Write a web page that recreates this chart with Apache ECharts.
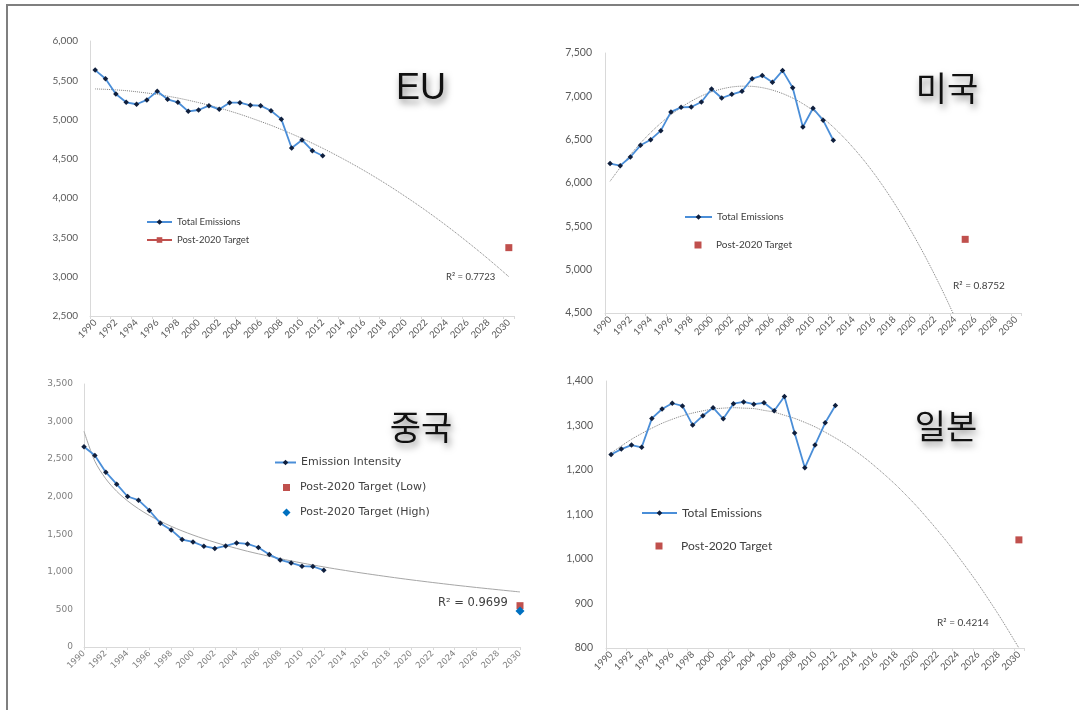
<!DOCTYPE html>
<html>
<head>
<meta charset="utf-8">
<script src="https://cdn.jsdelivr.net/npm/echarts@6/dist/echarts.min.js"></script>
<style>
  html, body { margin: 0; padding: 0; background: #ffffff; }
  #chart { width: 1079px; height: 710px; }
</style>
</head>
<body>
<div id="chart"></div>
<script>
// Year categories shared by all four panels
const years = ['1990','1991','1992','1993','1994','1995','1996','1997','1998','1999',
  '2000','2001','2002','2003','2004','2005','2006','2007','2008','2009',
  '2010','2011','2012','2013','2014','2015','2016','2017','2018','2019',
  '2020','2021','2022','2023','2024','2025','2026','2027','2028','2029','2030'];

// Observed series, 1990-2012
const euEmissions = [5630,5520,5325,5220,5195,5250,5360,5258,5220,5105,5122,5177,5130,5215,5215,5182,5177,5113,5005,4638,4740,4604,4540];
const usEmissions = [6224,6200,6300,6435,6500,6604,6820,6873,6877,6935,7085,6981,7023,7058,7204,7239,7162,7297,7100,6646,6862,6723,6493];
const chinaIntensity = [2664,2549,2327,2167,2003,1954,1817,1648,1558,1430,1399,1341,1311,1345,1385,1372,1324,1230,1159,1119,1075,1071,1022];
const japanEmissions = [1235,1247,1256,1251,1316,1337,1350,1344,1301,1322,1340,1315,1349,1353,1348,1351,1333,1365,1283,1205,1256,1306,1345];

// Post-2020 targets
const euTarget = [['2030', 3370]];
const usTarget = [['2025', 5350]];
const chinaTargetLow = [['2030', 550]];
const chinaTargetHigh = [['2030', 480]];
const japanTarget = [['2030', 1043]];

// Trend lines, one value per year from 1990
const euTrend = [5390,5385,5378,5368,5354,5338,5320,5298,5274,5246,5216,5183,5148,5109,5068,5023,4976,4927,4874,4818,
  4760,4699,4635,4568,4498,4426,4351,4273,4192,4108,4021,3932,3840,3745,3647,3546,3442,3336,3227,3115,3000];
const usTrend = [6020,6179,6326,6460,6582,6691,6788,6872,6944,7004,7051,7085,7108,7117,7115,7100,7072,7032,6980,6915,
  6837,6747,6645,6530,6403,6264,6112,5947,5770,5581,5379,5165,4938,4699,4447];
const chinaTrend = [2870,2471,2238,2072,1944,1839,1750,1674,1606,1545,1490,1440,1394,1351,1312,1274,1240,1207,1176,1146,
  1118,1091,1066,1041,1018,995,974,953,933,913,894,876,858,841,824,808,792,777,762,747,733];
const japanTrend = [1238,1254,1269,1282,1294,1305,1314,1322,1328,1333,1337,1339,1340,1339,1338,1334,1330,1323,1316,1307,
  1297,1285,1272,1258,1242,1225,1206,1186,1165,1142,1118,1092,1065,1037,1007,976,944,910,875,838,800];

// Y-axis ranges [min, max, interval]
const euRange = [2500, 6000, 500];
const usRange = [4500, 7500, 500];
const chinaRange = [0, 3500, 500];
const japanRange = [800, 1400, 100];

const LATIN = 'Lato, "Liberation Sans", sans-serif';
const GULIM = '"DejaVu Sans", "Noto Sans", sans-serif';
const KR = '"Noto Sans CJK KR", sans-serif';
const BLUE = '#4a8ed8';
const MARK = '#0f1f3d';
const RED = '#c0504d';
const AXIS = '#d9d9d9';

const grids = [
  { left: 90,  top: 41,  width: 424, height: 275 },
  { left: 605, top: 53,  width: 416, height: 260 },
  { left: 84,  top: 384, width: 436, height: 263 },
  { left: 606, top: 381, width: 418, height: 267 }
].map(g => Object.assign({ containLabel: false, outerBoundsMode: 'none' }, g));

function xAxisFor(idx, gap, font, color, size) {
  return {
    type: 'category', gridIndex: idx, data: years, boundaryGap: gap,
    axisLine: { show: true, lineStyle: { color: AXIS, width: 1 } },
    axisTick: { show: true, interval: 1, length: 3, lineStyle: { color: AXIS } },
    axisLabel: { interval: 1, rotate: 45, margin: 5, fontSize: size, fontFamily: font, color: color },
    splitLine: { show: false }
  };
}
function yAxisFor(idx, range, font, color, size, margin) {
  return {
    type: 'value', gridIndex: idx, min: range[0], max: range[1], interval: range[2],
    axisLine: { show: true, lineStyle: { color: AXIS, width: 1 } },
    axisTick: { show: false },
    splitLine: { show: false },
    axisLabel: { fontSize: size, fontFamily: font, color: color, margin: margin,
      formatter: v => v.toLocaleString('en-US') }
  };
}

function dataLine(name, idx, values) {
  return {
    name: name, type: 'line', xAxisIndex: idx, yAxisIndex: idx, data: values,
    symbol: 'diamond', symbolSize: 5.5, showSymbol: true, z: 3,
    itemStyle: { color: MARK },
    lineStyle: { color: BLUE, width: 1.8 }
  };
}
function trendLine(idx, values, type, color) {
  return {
    type: 'line', xAxisIndex: idx, yAxisIndex: idx, data: values, smooth: 0.3,
    symbol: 'none', clip: true, z: 2, silent: true,
    lineStyle: { color: color, width: 1, type: type }
  };
}
function targetPoint(name, idx, data, symbol, size, color) {
  return {
    name: name, type: 'scatter', xAxisIndex: idx, yAxisIndex: idx, data: data,
    symbol: symbol, symbolSize: size, z: 4, itemStyle: { color: color, opacity: 1 }
  };
}

// One legend per entry so each row sits exactly where it belongs
function legendItem(name, left, top, w, h, font, size, icon, textPad) {
  const item = icon ? { name: name, icon: icon } : { name: name };
  return {
    data: [item], left: left, top: top, itemWidth: w, itemHeight: h, padding: 0,
    selectedMode: false,
    formatter: n => n.split('|')[1],
    textStyle: { fontFamily: font, fontSize: size, color: '#404040',
      padding: [0, 0, 0, textPad || 0] }
  };
}

function headline(text, x, y, font, size) {
  return {
    type: 'text', x: x, y: y, silent: true, z: 10,
    style: {
      text: text, fill: '#111111', font: size + 'px ' + font,
      textAlign: 'center', textVerticalAlign: 'middle', align: 'center', verticalAlign: 'middle',
      textShadowColor: 'rgba(0,0,0,0.5)', textShadowBlur: 7, textShadowOffsetX: 2, textShadowOffsetY: 4
    }
  };
}
function note(text, x, y, font, size) {
  return {
    type: 'text', x: x, y: y, silent: true, z: 10,
    style: { text: text, fill: '#404040', font: size + 'px ' + font,
      textAlign: 'left', textVerticalAlign: 'middle', align: 'left', verticalAlign: 'middle' }
  };
}

const option = {
  animation: false,
  backgroundColor: '#ffffff',
  grid: grids,
  xAxis: [
    xAxisFor(0, true, LATIN, '#595959', 9.5),
    xAxisFor(1, true, LATIN, '#595959', 9.5),
    xAxisFor(2, false, GULIM, '#7f7f7f', 8.5),
    xAxisFor(3, true, LATIN, '#595959', 9.5)
  ],
  yAxis: [
    yAxisFor(0, euRange, LATIN, '#595959', 10, 12),
    yAxisFor(1, usRange, LATIN, '#595959', 10.5, 13),
    yAxisFor(2, chinaRange, GULIM, '#7f7f7f', 9, 11),
    yAxisFor(3, japanRange, LATIN, '#595959', 10.5, 13)
  ],
  legend: [
    legendItem('EU|Total Emissions', 146, 217, 25, 7, LATIN, 9.5),
    legendItem('EU|Post-2020 Target', 146, 235, 25, 7, LATIN, 9.5),
    legendItem('US|Total Emissions', 684, 212, 27, 7, LATIN, 10),
    legendItem('US|Post-2020 Target', 694.5, 240, 7, 7, LATIN, 10, 'rect', 9.5),
    legendItem('CN|Emission Intensity', 274, 457, 21, 7, GULIM, 11),
    legendItem('CN|Post-2020 Target (Low)', 283, 482, 7, 7, GULIM, 11, 'rect', 5),
    legendItem('CN|Post-2020 Target (High)', 282.5, 507, 8, 8, GULIM, 11, 'diamond', 4.5),
    legendItem('JP|Total Emissions', 641, 507, 35, 7, LATIN, 12),
    legendItem('JP|Post-2020 Target', 655.5, 540, 7, 7, LATIN, 12, 'rect', 13.5)
  ],
  graphic: [
    { type: 'rect', silent: true, z: 0,
      shape: { x: 7, y: 5, width: 1100, height: 720 },
      style: { fill: 'none', stroke: '#7f7f7f', lineWidth: 2 } },
    headline('EU', 421, 89, '"Liberation Sans", sans-serif', 36),
    headline('미국', 947, 88, KR, 34),
    headline('중국', 421, 427, KR, 34),
    headline('일본', 946, 426, KR, 34),
    note('R² = 0.7723', 446, 277, LATIN, 9.5),
    note('R² = 0.8752', 953, 286, LATIN, 10),
    note('R² = 0.9699', 438, 603, GULIM, 11.5),
    note('R² = 0.4214', 937, 623, LATIN, 10)
  ],
  series: [
    // EU
    trendLine(0, euTrend, 'dotted', '#7f7f7f'),
    dataLine('EU|Total Emissions', 0, euEmissions),
    { name: 'EU|Post-2020 Target', type: 'line', xAxisIndex: 0, yAxisIndex: 0, data: euTarget,
      symbol: 'rect', symbolSize: 7, z: 4, itemStyle: { color: RED }, lineStyle: { color: RED, width: 1.8 } },
    // US
    trendLine(1, usTrend, 'dotted', '#7f7f7f'),
    dataLine('US|Total Emissions', 1, usEmissions),
    targetPoint('US|Post-2020 Target', 1, usTarget, 'rect', 7, RED),
    // China
    trendLine(2, chinaTrend, 'solid', '#a6a6a6'),
    dataLine('CN|Emission Intensity', 2, chinaIntensity),
    targetPoint('CN|Post-2020 Target (Low)', 2, chinaTargetLow, 'rect', 7, RED),
    targetPoint('CN|Post-2020 Target (High)', 2, chinaTargetHigh, 'diamond', 9, '#0070c0'),
    // Japan
    trendLine(3, japanTrend, 'dotted', '#7f7f7f'),
    dataLine('JP|Total Emissions', 3, japanEmissions),
    targetPoint('JP|Post-2020 Target', 3, japanTarget, 'rect', 7, RED)
  ]
};

const chart = echarts.init(document.getElementById('chart'), null, { renderer: 'canvas' });
chart.setOption(option);
</script>
</body>
</html>
